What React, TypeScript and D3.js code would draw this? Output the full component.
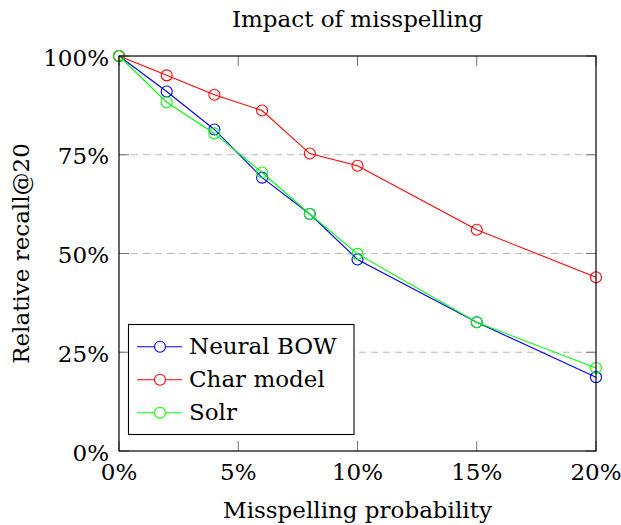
import React from "react";
import * as d3 from "d3";

const xValues = [0, 2, 4, 6, 8, 10, 15, 20];
const neuralBow = [100, 91.0, 81.4, 69.2, 60.0, 48.5, 32.6, 18.7];
const charModel = [100, 95.1, 90.2, 86.2, 75.3, 72.2, 56.0, 44.0];
const solr = [100, 88.3, 80.4, 70.5, 60.0, 49.9, 32.6, 21.0];
const seriesNames = ["Neural BOW", "Char model", "Solr"];
const seriesColors = ["#0000ff", "#ff0000", "#00ff00"];
const xTicks = [0, 5, 10, 15, 20];
const yTicks = [0, 25, 50, 75, 100];
const gridTicks = [25, 50, 75];

const W = 621, H = 525;
const L = 119, R = 596, T = 56, B = 451;
const FONT = "DejaVu Serif, serif";
const FS = 23;

export default function App() {
  const x = d3.scaleLinear().domain([0, 20]).range([L, R]);
  const y = d3.scaleLinear().domain([0, 100]).range([B, T]);
  const line = d3.line<[number, number]>().x(d => x(d[0])).y(d => y(d[1]));
  const all = [neuralBow, charModel, solr];
  const ts = { fontFamily: FONT, fontSize: FS, fontWeight: 300 } as React.CSSProperties;
  return (
    <svg width={W} height={H} style={{ position: "absolute", left: 0, top: 0 }}>
      <rect width={W} height={H} fill="#fff" />
      {gridTicks.map(t => (
        <line key={t} x1={L} x2={R} y1={y(t)} y2={y(t)} stroke="#bbb" strokeWidth={1} strokeDasharray="7,5" />
      ))}
      {xTicks.map(t => (
        <g key={t}>
          <line x1={x(t)} x2={x(t)} y1={B} y2={B - 10} stroke="#777" />
          <line x1={x(t)} x2={x(t)} y1={T} y2={T + 10} stroke="#777" />
          <text x={x(t)} y={480} textAnchor="middle" style={ts}>{t}%</text>
        </g>
      ))}
      {yTicks.map(t => (
        <g key={t}>
          <line x1={L} x2={L + 10} y1={y(t)} y2={y(t)} stroke="#777" />
          <line x1={R} x2={R - 10} y1={y(t)} y2={y(t)} stroke="#777" />
          <text x={L - 10} y={y(t) + 9.5} textAnchor="end" style={ts}>{t}%</text>
        </g>
      ))}
      {all.map((s, i) => {
        const pts = xValues.map((v, j) => [v, s[j]] as [number, number]);
        return (
          <g key={i}>
            <path d={line(pts) || ""} fill="none" stroke={seriesColors[i]} strokeWidth={1.1} />
            {pts.map((p, j) => (
              <circle key={j} cx={x(p[0])} cy={y(p[1])} r={5.5} fill="none" stroke={seriesColors[i]} strokeWidth={1.1} />
            ))}
          </g>
        );
      })}
      <rect x={L} y={T} width={R - L} height={B - T} fill="none" stroke="#000" strokeWidth={1.2} />
      <g>
        <rect x={128.5} y={324.5} width={225.5} height={110} fill="#fff" stroke="#000" strokeWidth={1.1} />
        {seriesNames.map((n, i) => {
          const cy = 346.7 + i * 33;
          return (
            <g key={n}>
              <line x1={137} x2={182} y1={cy} y2={cy} stroke={seriesColors[i]} strokeWidth={1.1} />
              <circle cx={160} cy={cy} r={5.5} fill="#fff" stroke={seriesColors[i]} strokeWidth={1.1} />
              <text x={189} y={cy + 7.3} style={ts}>{n}</text>
            </g>
          );
        })}
      </g>
      <text x={(L + R) / 2} y={26.7} textAnchor="middle" style={ts}>Impact of misspelling</text>
      <text x={(L + R) / 2} y={518} textAnchor="middle" style={ts}>Misspelling probability</text>
      <text transform={`translate(29,${(T + B) / 2}) rotate(-90)`} textAnchor="middle" style={ts}>Relative recall@20</text>
    </svg>
  );
}
